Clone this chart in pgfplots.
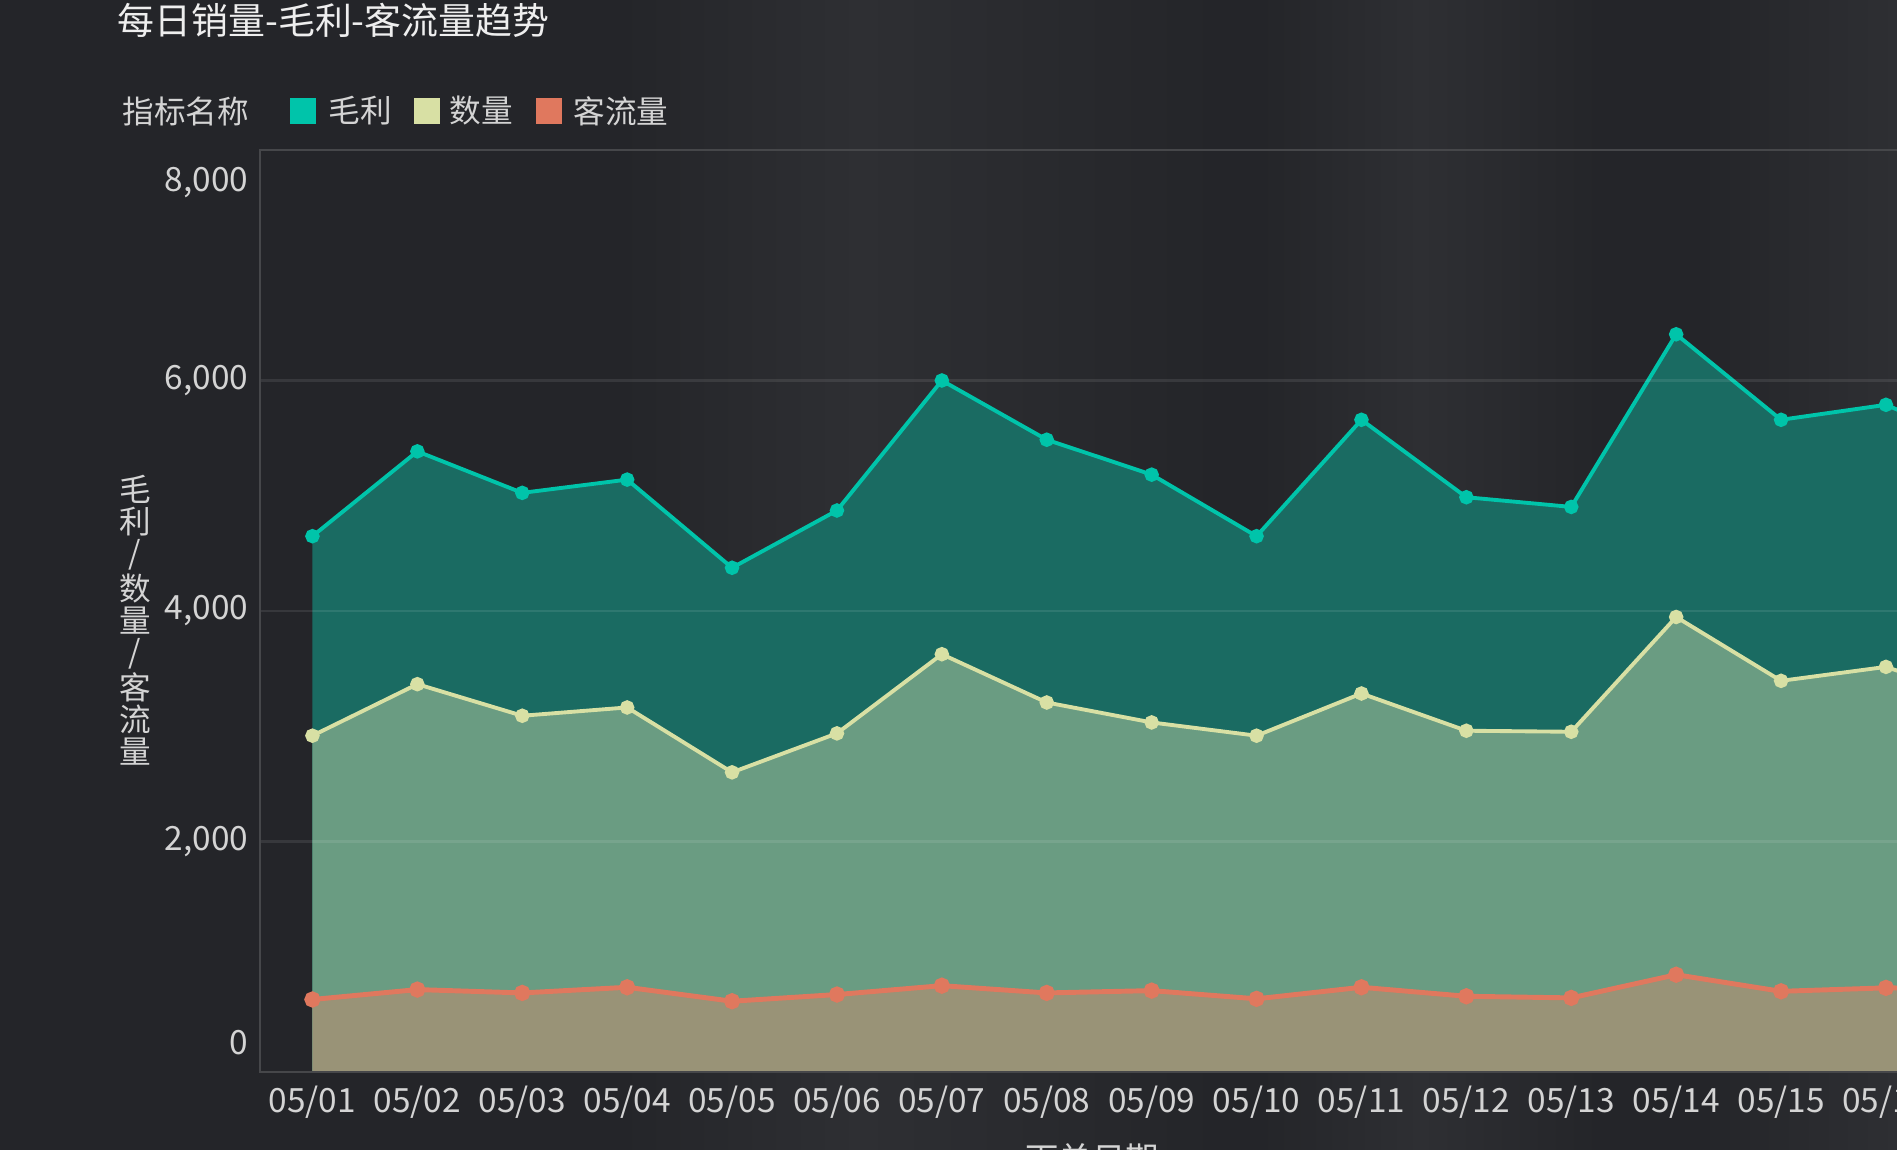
\documentclass[border=0pt]{standalone}
\usepackage{fontspec}
\setmainfont{Noto Sans CJK SC}
\usepackage{pgfplots}
\pgfplotsset{compat=1.18}
\definecolor{bg}{HTML}{242529}
\definecolor{streak}{HTML}{2E2F33}
\definecolor{gridc}{HTML}{3A3B3E}
\definecolor{axisc}{HTML}{46474A}
\definecolor{tickc}{HTML}{D4D4D4}
\definecolor{titlec}{HTML}{EEEEEE}
\definecolor{cteal}{HTML}{00C4AA}
\definecolor{cyellow}{HTML}{D8E0A4}
\definecolor{csalmon}{HTML}{E0785E}
\definecolor{fgreen}{HTML}{1A6B62}
\definecolor{fyellow}{HTML}{6A9C82}
\definecolor{fred}{HTML}{999377}
\begin{document}
\begin{tikzpicture}[x=1cm,y=1cm]
\useasboundingbox (0,0) rectangle (18.97,11.5);
\clip (0,0) rectangle (18.97,11.5);
\fill[bg] (0,0) rectangle (18.97,11.5);
% subtle background streaks
\shade[left color=bg, right color=streak] (6.2,0) rectangle (8.6,11.5);
\shade[left color=streak, right color=bg] (8.6,0) rectangle (12.2,11.5);
\shade[left color=bg, right color=streak] (12.6,0) rectangle (14.2,11.5);
\shade[left color=streak, right color=bg] (14.2,0) rectangle (16.0,11.5);
\shade[left color=bg, right color=streak] (17.0,0) rectangle (18.97,11.5);
% title and legend
\node[anchor=west, inner sep=0pt, text=titlec, font=\fontsize{10.5}{12}\selectfont] at (1.17,11.30) {每日销量-毛利-客流量趋势};
\node[anchor=west, inner sep=0pt, text=tickc, font=\fontsize{9}{11}\selectfont] at (1.22,10.39) {指标名称};
\fill[cteal] (2.90,10.26) rectangle (3.16,10.52);
\node[anchor=west, inner sep=0pt, text=tickc, font=\fontsize{9}{11}\selectfont] at (3.28,10.39) {毛利};
\fill[cyellow] (4.14,10.26) rectangle (4.40,10.52);
\node[anchor=west, inner sep=0pt, text=tickc, font=\fontsize{9}{11}\selectfont] at (4.49,10.39) {数量};
\fill[csalmon] (5.36,10.26) rectangle (5.62,10.52);
\node[anchor=west, inner sep=0pt, text=tickc, font=\fontsize{9}{11}\selectfont] at (5.73,10.39) {客流量};
% y axis title (stacked)
\node[align=center, inner sep=0pt, text=tickc, font=\fontsize{9}{9}\selectfont] at (1.35,5.30) {毛\\利\\/\\数\\量\\/\\客\\流\\量};
% x axis title (cut by the lower edge)
\node[anchor=north, inner sep=0pt, text=tickc, font=\fontsize{9.5}{11}\selectfont] at (10.92,0.07) {下单日期};
\begin{axis}[
  name=ax,
  at={(2.60cm,0.78cm)}, anchor=south west,
  scale only axis, width=17.833cm, height=9.22cm,
  xmin=-0.5, xmax=16.5, ymin=0, ymax=8000,
  xtick={0,...,16},
  xticklabels={05/01,05/02,05/03,05/04,05/05,05/06,05/07,05/08,05/09,05/10,05/11,05/12,05/13,05/14,05/15,05/16,05/17},
  ytick={0,2000,4000,6000,8000},
  yticklabels={{},{2,000},{4,000},{6,000},{}},
  major tick length=0pt,
  ymajorgrids,
  grid style={color=white, opacity=0.09, line width=0.6pt},
  axis line style={color=axisc, line width=0.6pt},
  tick label style={font=\fontsize{9.5}{11}\selectfont, text=tickc},
  xticklabel style={anchor=base, inner sep=0pt, yshift=-0.41cm},
  yticklabel style={anchor=east, inner sep=0pt, xshift=-0.11cm},
  axis on top,
]
\addplot[draw=none, fill=fgreen, forget plot] coordinates {
(0,4649) (1,5385) (2,5025) (3,5140) (4,4375) (5,4872) (6,6000) (7,5486) (8,5183) (9,4649) (10,5659) (11,4987) (12,4903) (13,6401) (14,5659) (15,5789) (16,5400)} \closedcycle;
\addplot[draw=none, fill=fyellow, forget plot] coordinates {
(0,2918) (1,3365) (2,3091) (3,3163) (4,2600) (5,2938) (6,3625) (7,3206) (8,3033) (9,2918) (10,3284) (11,2961) (12,2952) (13,3948) (14,3394) (15,3515) (16,3210)} \closedcycle;
\addplot[draw=none, fill=fred, forget plot] coordinates {
(0,629) (1,715) (2,686) (3,735) (4,614) (5,672) (6,749) (7,686) (8,706) (9,635) (10,735) (11,657) (12,643) (13,844) (14,700) (15,730) (16,720)} \closedcycle;
\addplot[color=cteal, line width=1.1pt, mark=*, mark size=1.5pt] coordinates {
(0,4649) (1,5385) (2,5025) (3,5140) (4,4375) (5,4872) (6,6000) (7,5486) (8,5183) (9,4649) (10,5659) (11,4987) (12,4903) (13,6401) (14,5659) (15,5789) (16,5400)};
\addplot[color=cyellow, line width=1.1pt, mark=*, mark size=1.5pt] coordinates {
(0,2918) (1,3365) (2,3091) (3,3163) (4,2600) (5,2938) (6,3625) (7,3206) (8,3033) (9,2918) (10,3284) (11,2961) (12,2952) (13,3948) (14,3394) (15,3515) (16,3210)};
\addplot[color=csalmon, line width=1.4pt, mark=*, mark size=1.6pt] coordinates {
(0,629) (1,715) (2,686) (3,735) (4,614) (5,672) (6,749) (7,686) (8,706) (9,635) (10,735) (11,657) (12,643) (13,844) (14,700) (15,730) (16,720)};
\end{axis}
\node[anchor=east, inner sep=0pt, text=tickc, font=\fontsize{9.5}{11}\selectfont] at ([xshift=-0.11cm, yshift=0.29cm]ax.south west) {0};
\node[anchor=east, inner sep=0pt, text=tickc, font=\fontsize{9.5}{11}\selectfont] at ([xshift=-0.11cm, yshift=-0.33cm]ax.north west) {8,000};
\end{tikzpicture}
\end{document}
